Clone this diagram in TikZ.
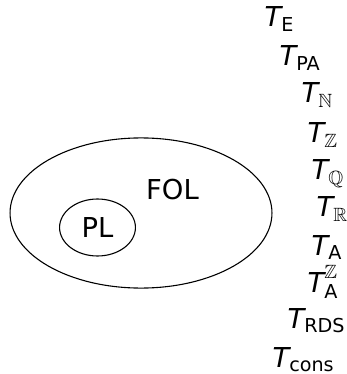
\documentclass[tikz,border=0pt]{standalone}
\usepackage{amsmath,amssymb}
\usepackage{fontspec}
\setmainfont{DejaVu Sans}
\usetikzlibrary{shapes.geometric, positioning}

\begin{document}
\begin{tikzpicture}[
    x=0.365pt, y=-0.365pt,
    logic/.style={draw, ellipse, inner sep=0pt},
    theory/.style={anchor=base west, inner sep=0pt}
]
  \useasboundingbox (0,0) rectangle (347,374);

  % Logics
  \node[logic, minimum width=95.6pt, minimum height=54.8pt] (fol) at (141,213) {};
  \node[anchor=base, inner sep=0pt] (fol-label) at (172.5,200) {FOL};
  \node[logic, minimum width=27.7pt, minimum height=20.8pt] (pl) at (97.5,227.5) {PL};

  % Theories
  \node[theory] (te) at (264,27) {$\textit{T}_{\text{E}}$};
  \node[theory] (tpa) at (279,66) {$\textit{T}_{\text{PA}}$};
  \node[theory] (tn) at (301,103) {$\textit{T}_{\mathbb{N}}$};
  \node[theory] (tz) at (307,143) {$\textit{T}_{\mathbb{Z}}$};
  \node[theory] (tq) at (311,180) {$\textit{T}_{\mathbb{Q}}$};
  \node[theory] (tr) at (316,217) {$\textit{T}_{\mathbb{R}}$};
  \node[theory] (ta) at (311,255) {$\textit{T}_{\text{A}}$};
  \node[theory] (taz) at (307,292) {$\textit{T}^{\mathbb{Z}}_{\text{A}}$};
  \node[theory] (trds) at (287,328) {$\textit{T}_{\text{RDS}}$};
  \node[theory] (tcons) at (272,367) {$\textit{T}_{\text{cons}}$};
\end{tikzpicture}
\end{document}
